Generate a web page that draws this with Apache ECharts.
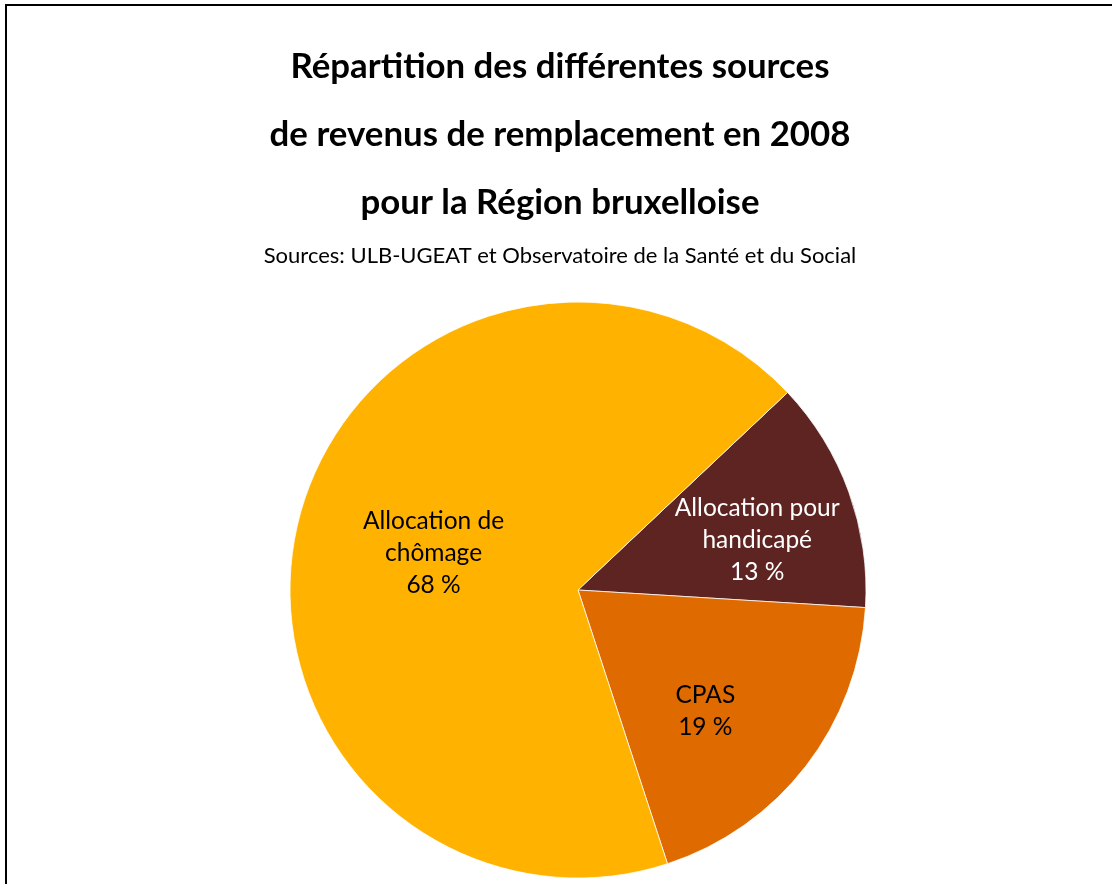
<!DOCTYPE html>
<html lang="fr">
<head>
<meta charset="utf-8">
<title>Répartition des revenus de remplacement 2008</title>
<script src="https://cdn.jsdelivr.net/npm/echarts@6/dist/echarts.min.js"></script>
<style>
  html, body { margin: 0; padding: 0; background: #ffffff; }
  #chart { width: 1112px; height: 884px; }
</style>
</head>
<body>
<div id="chart"></div>
<script>
// Sources of replacement income, Brussels-Capital Region, 2008 (share in %)
const categories = ['Allocation pour\nhandicapé', 'CPAS', 'Allocation de\nchômage'];
const shares = [13, 19, 68];
const sliceColors = ['#5E2421', '#DE6A00', '#FFB300'];
const labelColors = ['#ffffff', '#000000', '#000000'];

const titleLines = [
  'Répartition des différentes sources',
  'de revenus de remplacement en 2008',
  'pour la Région bruxelloise'
];
const sourceNote = 'Sources: ULB-UGEAT et Observatoire de la Santé et du Social';

// Nudges of the inside labels away from the slice mid-radius
const labelNudge = [[41, 0], [11, 31], [-2, -1]];

const FONT = 'Lato, "Open Sans", sans-serif';

const chart = echarts.init(document.getElementById('chart'), null, { renderer: 'canvas' });

chart.setOption({
  backgroundColor: '#ffffff',
  animation: false,
  title: [
    {
      text: titleLines.join('\n'),
      left: 560,
      textAlign: 'center',
      top: 33,
      padding: 0,
      textStyle: {
        fontFamily: FONT,
        fontWeight: 'bold',
        fontSize: 34.8,
        lineHeight: 68,
        color: '#000000'
      }
    },
    {
      text: sourceNote,
      left: 560,
      textAlign: 'center',
      top: 243,
      padding: 0,
      textStyle: {
        fontFamily: FONT,
        fontWeight: 'normal',
        fontSize: 22,
        lineHeight: 26,
        color: '#000000'
      }
    }
  ],
  graphic: [
    {
      type: 'rect',
      shape: { x: 6, y: 5, width: 1300, height: 1100 },
      style: { fill: null, stroke: '#000000', lineWidth: 2 },
      silent: true,
      z: 10
    }
  ],
  series: [
    {
      type: 'pie',
      center: [578, 590],
      radius: 288,
      startAngle: 43.3,
      clockwise: true,
      avoidLabelOverlap: false,
      itemStyle: { borderColor: '#ffffff', borderWidth: 0.75 },
      label: {
        show: true,
        position: 'inside',
        fontFamily: FONT,
        fontSize: 24.5,
        lineHeight: 32,
        align: 'center',
        formatter: p => p.name + '\n' + p.value + ' %'
      },
      labelLine: { show: false },
      emphasis: { disabled: true },
      data: categories.map((name, i) => ({
        name: name,
        value: shares[i],
        itemStyle: { color: sliceColors[i] },
        label: { color: labelColors[i], offset: labelNudge[i] }
      }))
    }
  ]
});
</script>
</body>
</html>
